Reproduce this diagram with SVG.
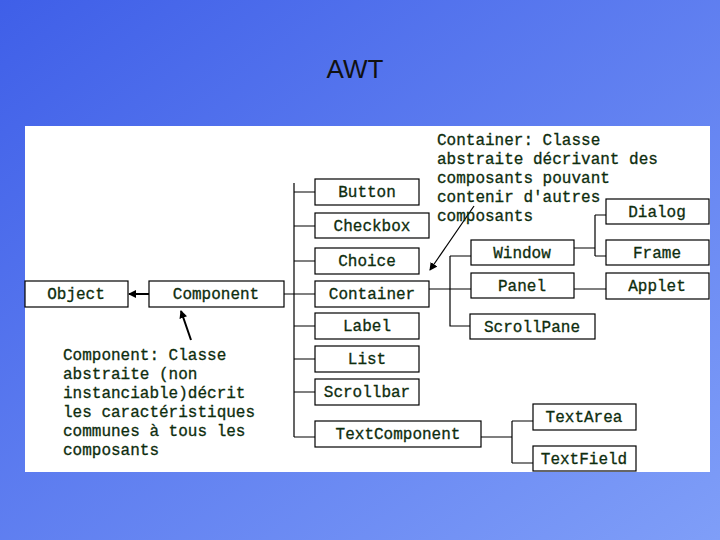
<svg xmlns="http://www.w3.org/2000/svg" width="720" height="540" viewBox="0 0 720 540">
<defs>
<linearGradient id="bg" x1="0" y1="0" x2="1" y2="1"><stop offset="0" stop-color="#3f5fe8"/><stop offset="1" stop-color="#7f9ef8"/></linearGradient>
<marker id="ah" markerWidth="8" markerHeight="8" refX="7" refY="4" orient="auto" markerUnits="userSpaceOnUse"><path d="M0,0 L8,4 L0,8 z" fill="#000"/></marker>
</defs>
<style>
.b{fill:#fff;stroke:#000;stroke-width:1.2}
.t{font-family:"Liberation Mono",monospace;font-size:16px;fill:#0e2d0e;stroke:#0e2d0e;stroke-width:0.3;text-anchor:middle}
.n{font-family:"Liberation Mono",monospace;font-size:16px;fill:#0e2d0e;stroke:#0e2d0e;stroke-width:0.3}
.c{fill:none;stroke:#000;stroke-width:1.2}
</style>
<rect width="720" height="540" fill="url(#bg)"/>
<text x="355" y="78" font-family="Liberation Sans,sans-serif" font-size="26" fill="#111" text-anchor="middle">AWT</text>
<rect x="25" y="126" width="685" height="346" fill="#fff"/>
<g id="connectors">
<path class="c" d="M294 183V437M284 294H315M294 192H315M294 226H315M294 261H315M294 326H315M294 359H315M294 392H315M294 437H315"/>
<path class="c" d="M429 289H471M450 256V326H470M450 256H471M574 248H595M595 215V256M595 215H606M595 256H606M574 289H606"/>
<path class="c" d="M481 437H512M512 421V463M512 421H533M512 463H533"/>
<line x1="149" y1="294" x2="129" y2="294" stroke="#000" stroke-width="2" marker-end="url(#ah)"/>
<line x1="474" y1="206" x2="430" y2="270" stroke="#000" stroke-width="1.2" marker-end="url(#ah)"/>
<line x1="191" y1="340" x2="181" y2="311" stroke="#000" stroke-width="2" marker-end="url(#ah)"/>
</g>
<g id="object"><rect class="b" x="25" y="281" width="103" height="26"/><text class="t" x="76" y="299">Object</text></g>
<g id="component"><rect class="b" x="149" y="281" width="135" height="26"/><text class="t" x="216" y="299">Component</text></g>
<g id="button"><rect class="b" x="315" y="179" width="104" height="26"/><text class="t" x="367" y="197">Button</text></g>
<g id="checkbox"><rect class="b" x="315" y="213" width="114" height="25"/><text class="t" x="372" y="231">Checkbox</text></g>
<g id="choice"><rect class="b" x="315" y="248" width="104" height="26"/><text class="t" x="367" y="266">Choice</text></g>
<g id="container"><rect class="b" x="315" y="281" width="114" height="26"/><text class="t" x="372" y="299">Container</text></g>
<g id="label"><rect class="b" x="315" y="313" width="104" height="26"/><text class="t" x="367" y="331">Label</text></g>
<g id="list"><rect class="b" x="315" y="346" width="104" height="26"/><text class="t" x="367" y="364">List</text></g>
<g id="scrollbar"><rect class="b" x="315" y="379" width="104" height="26"/><text class="t" x="367" y="397">Scrollbar</text></g>
<g id="textcomponent"><rect class="b" x="315" y="421" width="166" height="26"/><text class="t" x="398" y="439">TextComponent</text></g>
<g id="dialog"><rect class="b" x="606" y="199" width="103" height="25"/><text class="t" x="657" y="217">Dialog</text></g>
<g id="window"><rect class="b" x="471" y="240" width="103" height="25"/><text class="t" x="522" y="258">Window</text></g>
<g id="frame"><rect class="b" x="606" y="240" width="103" height="25"/><text class="t" x="657" y="258">Frame</text></g>
<g id="panel"><rect class="b" x="471" y="273" width="103" height="25"/><text class="t" x="522" y="291">Panel</text></g>
<g id="applet"><rect class="b" x="606" y="273" width="103" height="26"/><text class="t" x="657" y="291">Applet</text></g>
<g id="scrollpane"><rect class="b" x="470" y="314" width="125" height="25"/><text class="t" x="532" y="332">ScrollPane</text></g>
<g id="textarea"><rect class="b" x="533" y="404" width="103" height="26"/><text class="t" x="584" y="422">TextArea</text></g>
<g id="textfield"><rect class="b" x="533" y="446" width="103" height="25"/><text class="t" x="584" y="464">TextField</text></g>
<g id="note-container"><text class="n" x="437" y="145">Container: Classe</text><text class="n" x="437" y="164">abstraite décrivant des</text><text class="n" x="437" y="183">composants pouvant</text><text class="n" x="437" y="202">contenir d'autres</text><text class="n" x="437" y="221">composants</text></g>
<g id="note-component"><text class="n" x="63" y="360">Component: Classe</text><text class="n" x="63" y="379">abstraite (non</text><text class="n" x="63" y="398">instanciable)décrit</text><text class="n" x="63" y="417">les caractéristiques</text><text class="n" x="63" y="436">communes à tous les</text><text class="n" x="63" y="455">composants</text></g>
</svg>
